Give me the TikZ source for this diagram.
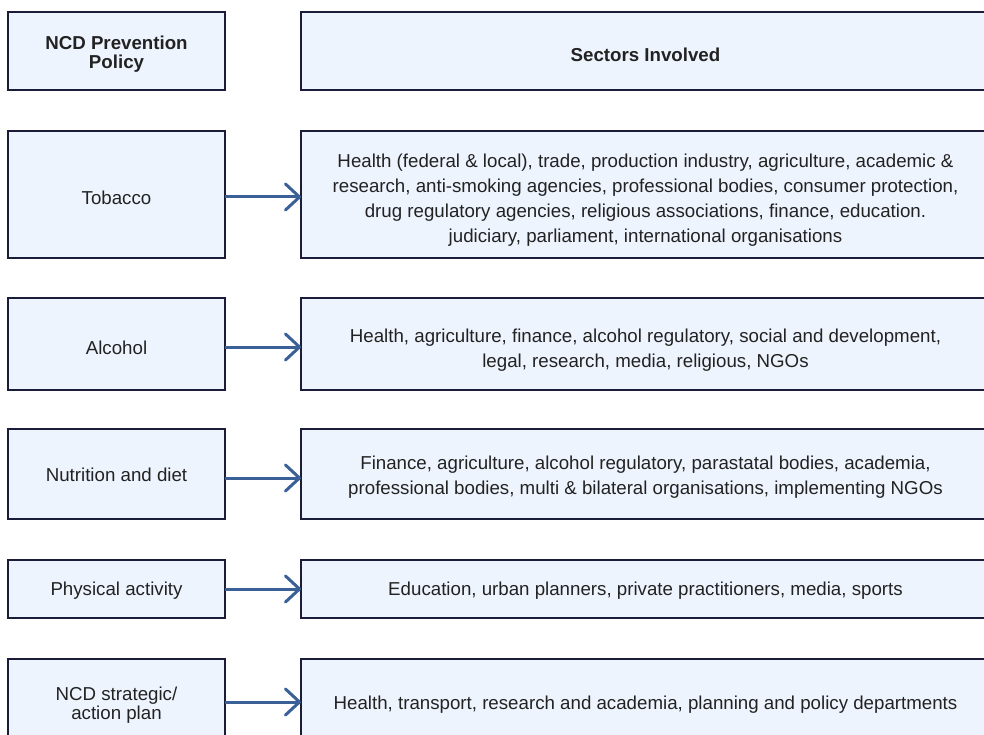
\documentclass[tikz,border=0pt]{standalone}
\usepackage{fontspec}
\setmainfont{Liberation Sans}
\usetikzlibrary{arrows.meta}
\definecolor{boxfill}{HTML}{EEF4FE}
\definecolor{boxline}{HTML}{1B1C3A}
\definecolor{arrowblue}{HTML}{3A6097}
\definecolor{txt}{HTML}{222222}

\begin{document}
\begin{tikzpicture}[x=1pt,y=-1pt,
  box/.style={draw=boxline, fill=boxfill, line width=2.6pt, inner sep=0pt,
    outer sep=0pt},
  polbox/.style={box, minimum width=217pt},
  secbox/.style={box, minimum width=689pt},
  lbl/.style={inner sep=0pt, text=txt, align=center},
  poltext/.style={lbl, font=\fontsize{18.7}{19}\selectfont},
  polhead/.style={lbl, font=\fontsize{18.7}{19}\selectfont\bfseries},
  sectext/.style={lbl, font=\fontsize{18.7}{25}\selectfont},
  sechead/.style={lbl, font=\fontsize{18.7}{25}\selectfont\bfseries},
  link/.style={draw=arrowblue, line width=3pt,
    -{Straight Barb[round, length=14pt, width=26pt, line width=3pt]}}]

\clip (0,0) rectangle (984,735);
\fill[white] (0,0) rectangle (984,735);

% boxes: policies on the left, sectors on the right
\node[polbox, minimum height=78pt]  (hpol) at (116.5,51) {};
\node[secbox, minimum height=78pt]  (hsec) at (645.5,51) {};
\node[polbox, minimum height=127pt] (tob)  at (116.5,194.5) {};
\node[secbox, minimum height=127pt] (tobS) at (645.5,194.5) {};
\node[polbox, minimum height=92pt]  (alc)  at (116.5,344) {};
\node[secbox, minimum height=92pt]  (alcS) at (645.5,344) {};
\node[polbox, minimum height=90pt]  (nut)  at (116.5,474) {};
\node[secbox, minimum height=90pt]  (nutS) at (645.5,474) {};
\node[polbox, minimum height=58pt]  (phy)  at (116.5,589) {};
\node[secbox, minimum height=58pt]  (phyS) at (645.5,589) {};
\node[polbox, minimum height=86pt]  (ncd)  at (116.5,702) {};
\node[secbox, minimum height=86pt]  (ncdS) at (645.5,702) {};

% column headers
\node[polhead] (hpolT) at ([yshift=-3.5pt]hpol.center) {NCD Prevention\\Policy};
\node[sechead] (hsecT) at ([yshift=-4pt]hsec.center) {Sectors Involved};

% policy labels
\node[poltext] (tobT) at ([yshift=-3pt]tob.center) {Tobacco};
\node[poltext] (alcT) at ([yshift=-3.5pt]alc.center) {Alcohol};
\node[poltext] (nutT) at ([yshift=-1pt]nut.center) {Nutrition and diet};
\node[poltext] (phyT) at ([yshift=-2pt]phy.center) {Physical activity};
\node[poltext] (ncdT) at ([yshift=-3.5pt]ncd.center) {NCD strategic/\\action plan};

% sector lists
\node[sectext] (tobST) at ([yshift=-5.5pt]tobS.center)
  {Health (federal \& local), trade, production industry, agriculture, academic \&\\
   research, anti-smoking agencies, professional bodies, consumer protection,\\
   drug regulatory agencies, religious associations, finance, education.\\
   judiciary, parliament, international organisations};
\node[sectext] (alcST) at ([yshift=-6pt]alcS.center)
  {Health, agriculture, finance, alcohol regulatory, social and development,\\
   legal, research, media, religious, NGOs};
\node[sectext] (nutST) at ([yshift=-3.5pt]nutS.center)
  {Finance, agriculture, alcohol regulatory, parastatal bodies, academia,\\
   professional bodies, multi \& bilateral organisations, implementing NGOs};
\node[sectext] (phyST) at ([yshift=-2pt]phyS.center)
  {Education, urban planners, private practitioners, media, sports};
\node[sectext] (ncdST) at ([yshift=-3pt]ncdS.center)
  {Health, transport, research and academia, planning and policy departments};

% connectors
\draw[link] ([yshift=-2.5pt]tob.east) -- ([yshift=-2.5pt]tobS.west);
\draw[link] ([yshift=-3pt]alc.east) -- ([yshift=-3pt]alcS.west);
\draw[link] ([yshift=-4pt]nut.east) -- ([yshift=-4pt]nutS.west);
\draw[link] (phy.east) -- (phyS.west);
\draw[link] (ncd.east) -- (ncdS.west);
\end{tikzpicture}
\end{document}
